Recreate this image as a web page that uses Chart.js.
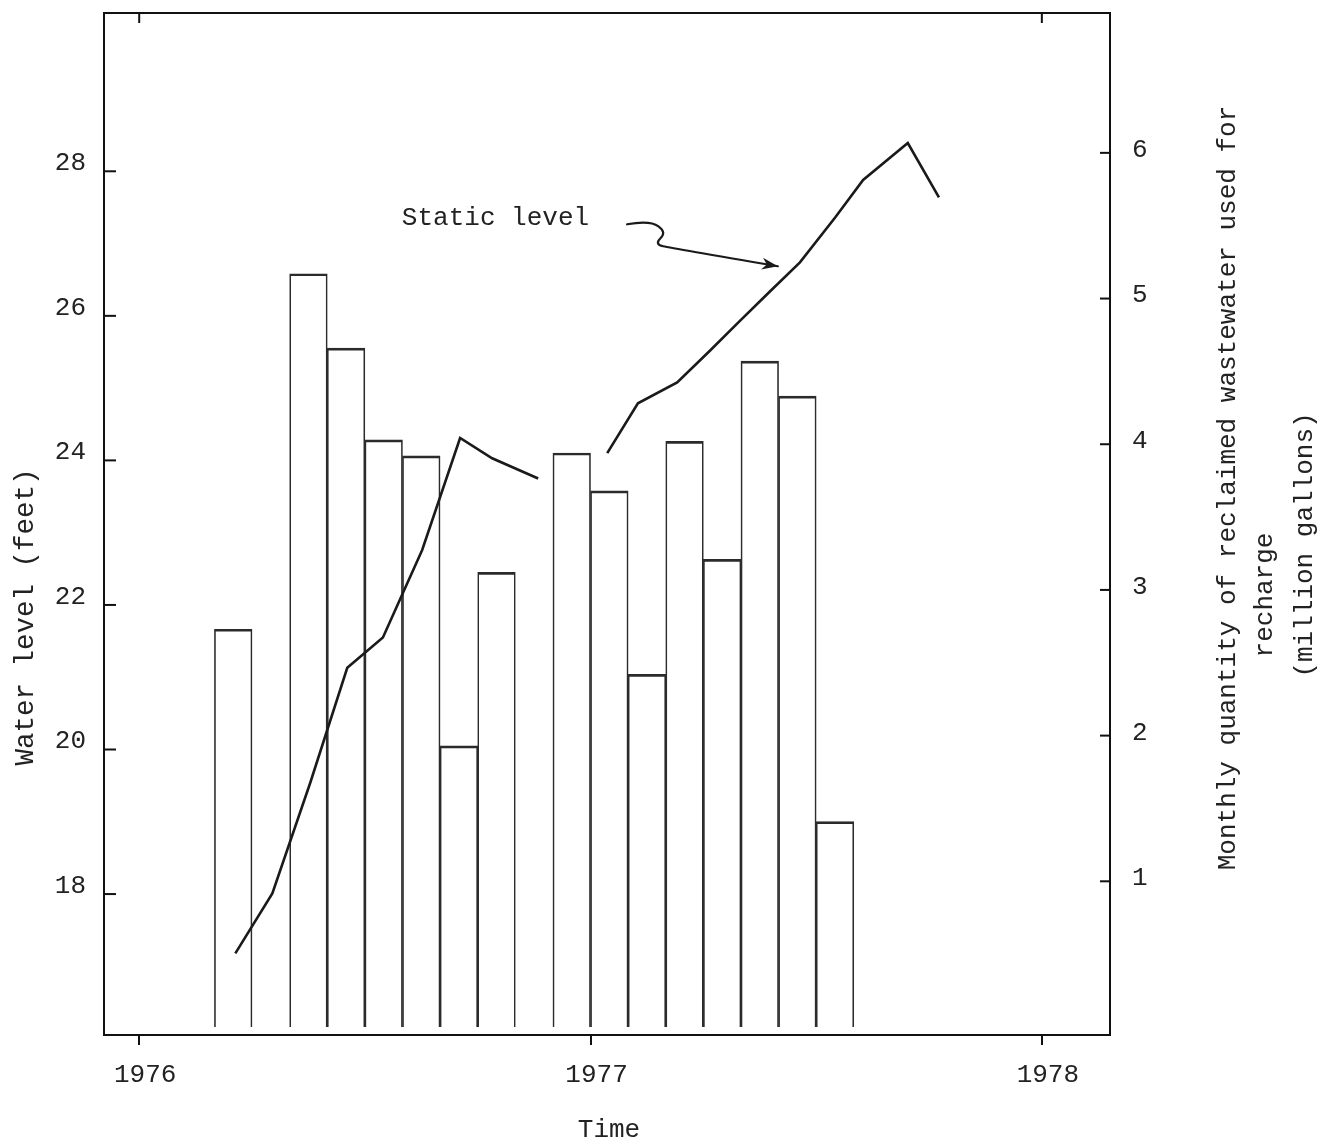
<!DOCTYPE html>
<html>
<head>
<meta charset="utf-8">
<script src="https://cdn.jsdelivr.net/npm/chart.js@4.4.1/dist/chart.umd.min.js"></script>
<style>
html,body{margin:0;padding:0;background:#ffffff;}
#wrap{width:1343px;height:1145px;}
</style>
</head>
<body>
<div id="wrap"><canvas id="c" width="1343" height="1145"></canvas></div>
<script>
// ---- data ----
// monthly recharge bars: months counted from January 1976 (0 = Jan 1976)
const barMonths = [2, 3, 4, 5, 6, 7, 8, 9, 10, 11, 12, 13, 14, 15, 16, 17, 18];
const barValues = [2.73, null, 5.17, 4.66, 4.03, 3.92, 1.93, 3.12, null, 3.94, 3.68, 2.42, 4.02, 3.21, 4.57, 4.33, 1.41];

// static water level (feet); null marks the break in the record
const levelTimes  = [1976.213, 1976.295, 1976.379, 1976.461, 1976.540, 1976.627, 1976.711, 1976.782, 1976.884, 1976.960,
                     1977.037, 1977.105, 1977.192, 1977.265, 1977.331, 1977.398, 1977.464, 1977.542, 1977.604, 1977.703, 1977.772];
const levelValues = [17.18, 18.01, 19.54, 21.13, 21.55, 22.76, 24.31, 24.03, 23.75, null,
                     24.10, 24.79, 25.08, 25.52, 25.93, 26.34, 26.74, 27.36, 27.88, 28.39, 27.64];

// tick labels
const xTicks = [1976, 1977, 1978];
const topTicks = [1976, 1978];
const leftTicks = [18, 20, 22, 24, 26, 28];
const rightTicks = [1, 2, 3, 4, 5, 6];

// texts
const leftTitle = 'Water level (feet)';
const bottomTitle = 'Time';
const rightTitleLines = ['Monthly quantity of reclaimed wastewater used for', 'recharge', '(million gallons)'];
const noteText = 'Static level';
// annotation anchor and arrow path, in data units (year, feet)
const noteAnchor = [1976.582, 27.35];
const arrowPath = [[1977.081, 27.267], [1977.132, 27.322], [1977.169, 27.156], [1977.141, 26.990], [1977.181, 26.935], [1977.415, 26.686]];

// ---- build ----
const FONT = '"Liberation Mono", "Courier New", monospace';
const INK = '#222222';

const barData = barMonths.map((m, i) => ({x: 1976 + (m + 0.5) / 12, y: barValues[i]}));
const lineData = levelTimes.map((t, i) => ({x: t, y: levelValues[i]}));

const decor = {
  id: 'decor',
  afterDraw(chart) {
    const {ctx, chartArea: a, scales} = chart;
    const x = scales.x, y = scales.y, y2 = scales.y2;
    ctx.save();
    ctx.strokeStyle = '#111';
    ctx.lineWidth = 2;
    const seg = (x1, y1, x2, y2_) => { ctx.beginPath(); ctx.moveTo(x1, y1); ctx.lineTo(x2, y2_); ctx.stroke(); };
    // top border
    seg(a.left - 1, a.top, a.right + 1, a.top);
    // inward ticks
    leftTicks.forEach(v => { const p = y.getPixelForValue(v); seg(a.left, p, a.left + 12, p); });
    rightTicks.forEach(v => { const p = y2.getPixelForValue(v); seg(a.right - 10, p, a.right, p); });
    topTicks.forEach(v => { const p = x.getPixelForValue(v); seg(p, a.top, p, a.top + 10); });

    // titles
    ctx.fillStyle = INK;
    ctx.textAlign = 'center';
    ctx.textBaseline = 'middle';
    // left
    ctx.font = '27.5px ' + FONT;
    ctx.save();
    ctx.translate(a.left - 78, 617);
    ctx.rotate(-Math.PI / 2);
    ctx.fillText(leftTitle, 0, 0);
    ctx.restore();
    ctx.font = '26px ' + FONT;
    // bottom
    ctx.fillText(bottomTitle, (a.left + a.right) / 2 + 2, a.bottom + 95);
    // right (reads bottom to top)
    const rOff = [118, 155, 195];
    const rMid = [488, 595, 545];
    rightTitleLines.forEach((t, i) => {
      ctx.save();
      ctx.translate(a.right + rOff[i], rMid[i]);
      ctx.rotate(-Math.PI / 2);
      ctx.fillText(t, 0, 0);
      ctx.restore();
    });

    // annotation
    ctx.textAlign = 'left';
    ctx.fillText(noteText, x.getPixelForValue(noteAnchor[0]), y.getPixelForValue(noteAnchor[1]));
    const pts = arrowPath.map(p => [x.getPixelForValue(p[0]), y.getPixelForValue(p[1])]);
    ctx.lineWidth = 2.2;
    ctx.strokeStyle = '#1a1a1a';
    ctx.lineJoin = 'round';
    ctx.lineCap = 'round';
    ctx.beginPath();
    ctx.moveTo(pts[0][0], pts[0][1]);
    for (let i = 1; i < pts.length - 2; i++) {
      const mx = (pts[i][0] + pts[i + 1][0]) / 2, my = (pts[i][1] + pts[i + 1][1]) / 2;
      ctx.quadraticCurveTo(pts[i][0], pts[i][1], mx, my);
    }
    const n = pts.length;
    ctx.quadraticCurveTo(pts[n - 2][0], pts[n - 2][1], pts[n - 1][0], pts[n - 1][1]);
    ctx.stroke();
    // arrow head
    const tip = pts[n - 1], from = pts[n - 2];
    const ang = Math.atan2(tip[1] - from[1], tip[0] - from[0]);
    const L = 16, W = 6;
    ctx.fillStyle = '#1a1a1a';
    ctx.beginPath();
    ctx.moveTo(tip[0], tip[1]);
    ctx.lineTo(tip[0] - L * Math.cos(ang) + W * Math.sin(ang), tip[1] - L * Math.sin(ang) - W * Math.cos(ang));
    ctx.lineTo(tip[0] - L * 0.7 * Math.cos(ang), tip[1] - L * 0.7 * Math.sin(ang));
    ctx.lineTo(tip[0] - L * Math.cos(ang) - W * Math.sin(ang), tip[1] - L * Math.sin(ang) + W * Math.cos(ang));
    ctx.closePath();
    ctx.fill();
    ctx.restore();
  }
};

const tickFont = {family: FONT, size: 26, lineHeight: 1};
const noPad = s => { s.paddingTop = 0; s.paddingBottom = 0; s.paddingLeft = 0; s.paddingRight = 0; };

new Chart(document.getElementById('c'), {
  type: 'bar',
  data: {
    datasets: [
      {
        type: 'line',
        label: 'Static level',
        data: lineData,
        yAxisID: 'y',
        xAxisID: 'x',
        borderColor: '#1a1a1a',
        borderWidth: 2.6,
        pointRadius: 0,
        tension: 0,
        spanGaps: false,
        fill: false,
        order: 0
      },
      {
        type: 'bar',
        label: 'Monthly recharge',
        data: barData,
        yAxisID: 'y2',
        xAxisID: 'x',
        backgroundColor: 'rgba(0,0,0,0)',
        borderColor: '#2b2b2b',
        borderWidth: {top: 2, left: 1, right: 1, bottom: 0},
        borderSkipped: false,
        barPercentage: 1,
        categoryPercentage: 1,
        order: 1
      }
    ]
  },
  options: {
    responsive: false,
    animation: false,
    devicePixelRatio: 1,
    layout: {padding: {top: 13, left: 0, right: 0, bottom: 0}},
    plugins: {legend: {display: false}, tooltip: {enabled: false}, title: {display: false}},
    scales: {
      x: {
        type: 'linear',
        position: 'bottom',
        min: 1975.922,
        max: 1978.151,
        offset: false,
        afterBuildTicks: s => { s.ticks = xTicks.map(v => ({value: v})); },
        afterFit: s => { s.height = 110; noPad(s); },
        ticks: {font: tickFont, color: INK, padding: 17, labelOffset: 6, maxRotation: 0, autoSkip: false, callback: v => String(v)},
        grid: {display: true, drawOnChartArea: false, drawTicks: true, tickLength: 10, color: '#111', lineWidth: 2, offset: false},
        border: {display: true, color: '#111', width: 2}
      },
      y: {
        type: 'linear',
        position: 'left',
        min: 16.05,
        max: 30.19,
        afterBuildTicks: s => { s.ticks = leftTicks.map(v => ({value: v})); },
        afterFit: s => { s.width = 104; noPad(s); },
        ticks: {font: tickFont, color: INK, padding: 18, labelOffset: -8, callback: v => String(v)},
        grid: {display: false, drawTicks: false},
        border: {display: true, color: '#111', width: 2}
      },
      y2: {
        type: 'linear',
        position: 'right',
        min: -0.055,
        max: 6.96,
        afterBuildTicks: s => { s.ticks = rightTicks.map(v => ({value: v})); },
        afterFit: s => { s.width = 233; noPad(s); },
        ticks: {font: tickFont, color: INK, padding: 22, labelOffset: -3, callback: v => String(v)},
        grid: {display: false, drawTicks: false},
        border: {display: true, color: '#111', width: 2}
      }
    }
  },
  plugins: [decor]
});
</script>
</body>
</html>
